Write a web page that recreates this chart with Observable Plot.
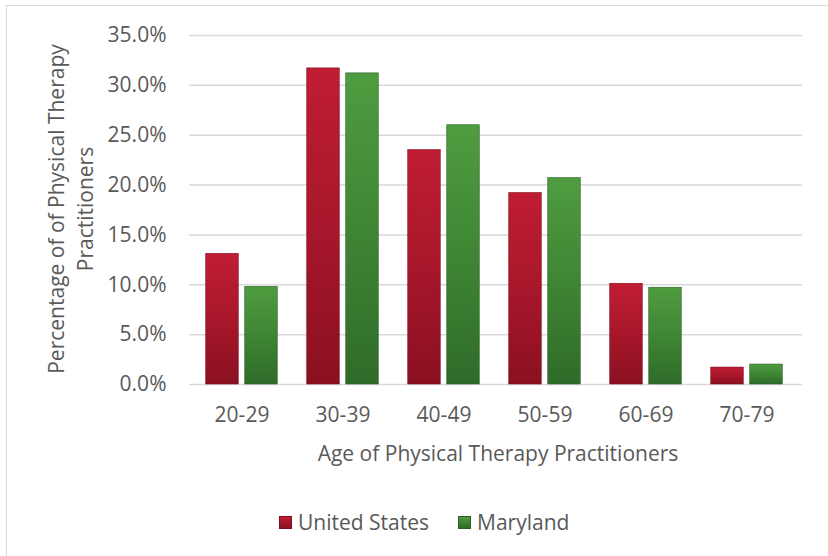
<!DOCTYPE html>
<html><head><meta charset="utf-8">
<script src="https://cdn.jsdelivr.net/npm/d3@7"></script>
<script src="https://cdn.jsdelivr.net/npm/@observablehq/plot@0.6"></script>
<style>
body{margin:0;background:#fff;font-family:"Open Sans",sans-serif;}
#wrap{position:relative;width:828px;height:556px;overflow:hidden;}
#border{position:absolute;left:6px;top:5px;width:840px;height:570px;border:1px solid #d9d9d9;box-sizing:border-box;}
#chart{position:absolute;left:0;top:0;}
#legend{position:absolute;top:508px;left:279px;display:flex;align-items:center;font-size:21px;color:#595959;height:28px;}
.item{display:flex;align-items:center;margin-right:29px;}
.sw{width:13px;height:13px;margin-right:6px;box-sizing:border-box;}
</style></head>
<body>
<div id="wrap"><div id="border"></div><div id="chart"></div><div id="legend"></div></div>
<script>
const ages = ["20-29","30-39","40-49","50-59","60-69","70-79"];
const series = ["United States","Maryland"];
const usValues = [13.1,31.7,23.5,19.2,10.1,1.7];
const mdValues = [9.8,31.2,26.0,20.7,9.7,2.0];
const yTicks = [0,5,10,15,20,25,30,35];
const xTitle = "Age of Physical Therapy Practitioners";
const yTitle = ["Percentage of of Physical Therapy","Practitioners"];

const usData = ages.map((a,i)=>({age:a, series:series[0], value:usValues[i]}));
const mdData = ages.map((a,i)=>({age:a, series:series[1], value:mdValues[i]}));

const fmt = d => d.toFixed(1) + "%";
const chart = Plot.plot({
  width: 828, height: 500,
  marginTop: 35, marginBottom: 116, marginLeft: 189, marginRight: 26,
  style: {fontSize: "21px", fontFamily: "'Open Sans', sans-serif", color: "#595959", background: "transparent"},
  x: {domain: ages, range: [189, 798], padding: 0},
  y: {domain: [0, 35]},
  marks: [
    Plot.ruleY(yTicks, {stroke: "#d9d9d9", strokeWidth: 1.5}),
    Plot.barY(usData, {x: "age", y: "value", fill: "url(#gUS)", stroke: "#7a0e1c", strokeWidth: 0.6, insetLeft: 14.75, insetRight: 53.75}),
    Plot.barY(mdData, {x: "age", y: "value", fill: "url(#gMD)", stroke: "#2a5e24", strokeWidth: 0.6, insetLeft: 53.75, insetRight: 14.75}),
    Plot.axisY(yTicks, {tickSize: 0, tickPadding: 23, tickFormat: fmt, label: null}),
    Plot.axisX({tickSize: 0, tickPadding: 23, label: null})
  ]
});
document.getElementById("chart").appendChild(chart);
const svg = d3.select(chart);
const defs = svg.insert("defs", ":first-child");
function grad(id, stops){
  const g = defs.append("linearGradient").attr("id", id).attr("x1",0).attr("y1",0).attr("x2",0).attr("y2",1);
  stops.forEach(([o,c]) => g.append("stop").attr("offset", o).attr("stop-color", c));
}
grad("gUS", [[0,"#c01d33"],[0.5,"#a8172b"],[1,"#8a1020"]]);
grad("gMD", [[0,"#4f9c40"],[0.5,"#3f8634"],[1,"#2f6b29"]]);

svg.append("text").attr("x", 498).attr("y", 455).attr("text-anchor","middle").attr("dominant-baseline","middle")
  .attr("fill","#595959").style("font-size","21px").text(xTitle);
yTitle.forEach((t,i) => {
  const x = i === 0 ? 58 : 87;
  svg.append("text").attr("transform", `translate(${x},209) rotate(-90)`).attr("text-anchor","middle")
    .attr("dominant-baseline","middle").attr("fill","#595959").style("font-size","21px").text(t);
});

const legend = d3.select("#legend");
const swatchFill = ["linear-gradient(#c01d33,#8a1020)", "linear-gradient(#4f9c40,#2f6b29)"];
const swatchStroke = ["#7a0e1c","#2a5e24"];
series.forEach((s,i) => {
  const it = legend.append("div").attr("class","item");
  it.append("div").attr("class","sw").style("background", swatchFill[i]).style("border", `1px solid ${swatchStroke[i]}`);
  it.append("span").text(s);
});
</script>
</body></html>
